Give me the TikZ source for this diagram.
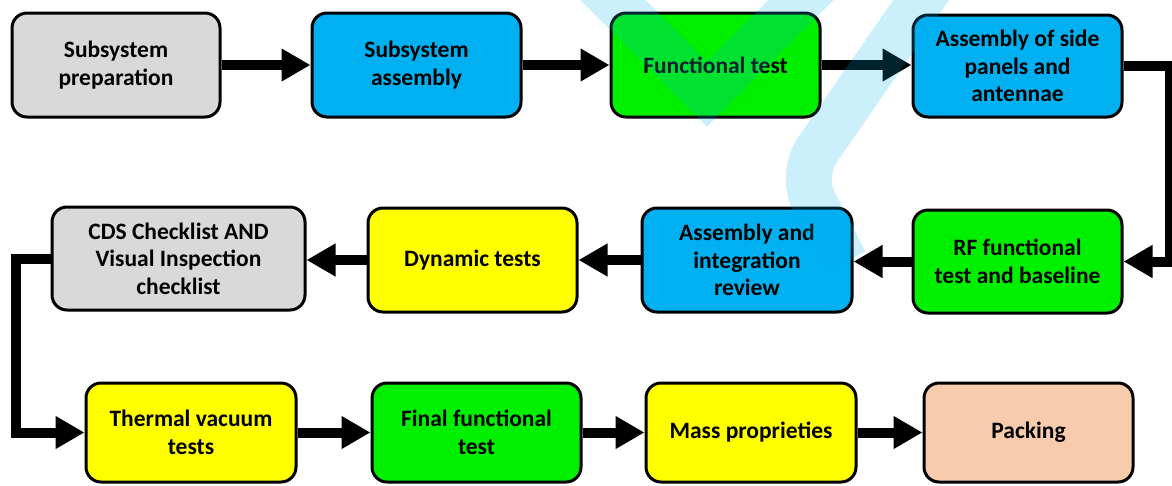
\documentclass[tikz,border=0pt]{standalone}
\usepackage{fontspec}
\setmainfont{Carlito}
\usetikzlibrary{arrows.meta,calc}
\definecolor{cgray}{HTML}{D9D9D9}
\definecolor{cblue}{HTML}{00B0F0}
\definecolor{cgreen}{HTML}{00F000}
\definecolor{cyellow}{HTML}{FFFF00}
\definecolor{cpeach}{HTML}{F8CBAD}
\definecolor{wmark}{HTML}{00AEEF}
\tikzset{
  box/.style={draw=black, line width=3pt, rounded corners=15pt, align=center,
    font=\fontsize{23.5}{27.5}\selectfont\bfseries, inner sep=2pt, text=black},
  arr/.style={line width=10pt, line join=miter, -{Triangle[length=29pt,width=31pt]}},
  wm/.style={draw=wmark, draw opacity=0.2, line width=46pt}
}
\begin{document}
\begin{tikzpicture}[x=1pt,y=-1pt]
\useasboundingbox (0,0) rectangle (1172,485);
\begin{scope}
\clip (0,0) rectangle (1172,485);
% row 1
\node[box, fill=cgray, minimum width=208pt, minimum height=104pt] (SP) at (116,65) {Subsystem\\preparation};
\node[box, fill=cblue, minimum width=209pt, minimum height=104pt] (SA) at (416.5,65) {Subsystem\\assembly};
\node[box, fill=cgreen, minimum width=209pt, minimum height=104pt] (FT) at (715.5,65) {Functional test};
\node[box, fill=cblue, minimum width=209pt, minimum height=102pt] (ASP) at (1017.5,66) {Assembly of side\\panels and\\antennae};
% row 2
\node[box, fill=cgreen, minimum width=209pt, minimum height=103pt] (RF) at (1017.5,261.5) {RF functional\\test and baseline};
\node[box, fill=cblue, minimum width=210pt, minimum height=104pt] (AIR) at (747,260) {Assembly and\\integration\\review};
\node[box, fill=cyellow, minimum width=209pt, minimum height=104pt] (DT) at (472.5,260) {Dynamic tests};
\node[box, fill=cgray, minimum width=253pt, minimum height=103pt] (CDS) at (178.5,258.5) {CDS Checklist AND\\Visual Inspection\\checklist};
% row 3
\node[box, fill=cyellow, minimum width=210pt, minimum height=99pt] (TV) at (191,432.5) {Thermal vacuum\\tests};
\node[box, fill=cgreen, minimum width=209pt, minimum height=99pt] (FF) at (476.5,432.5) {Final functional\\test};
\node[box, fill=cyellow, minimum width=210pt, minimum height=99pt] (MP) at (751,432.5) {Mass proprieties};
\node[box, fill=cpeach, minimum width=209pt, minimum height=99pt] (PK) at (1028.5,432.5) {Packing};
% connectors
\coordinate (rc) at (1170,0);
\coordinate (lc) at (16,0);
\draw[arr] (SP.east) -- (SA.west);
\draw[arr] (SA.east) -- (FT.east -| SA.east) -- (FT.west);
\draw[arr] (FT.east) -- (FT.east -| ASP.west);
\draw[arr] (ASP.east) -| (rc |- RF.east) -- (RF.east);
\draw[arr] (RF.west) -- (RF.west -| AIR.east);
\draw[arr] (AIR.west) -- (AIR.west -| DT.east);
\draw[arr] (DT.west) -- (DT.west -| CDS.east);
\draw[arr] (CDS.west) -| (lc |- TV.west) -- (TV.west);
\draw[arr] (TV.east) -- (FF.west);
\draw[arr] (FF.east) -- (MP.west);
\draw[arr] (MP.east) -- (PK.west);
% watermark
\draw[wm, line join=miter] (580,-33) -- (707,94) -- (840,-39);
\draw[wm, rounded corners=30pt] (935,-20) -- (800,175) -- (845,262);
\end{scope}
\end{tikzpicture}
\end{document}
